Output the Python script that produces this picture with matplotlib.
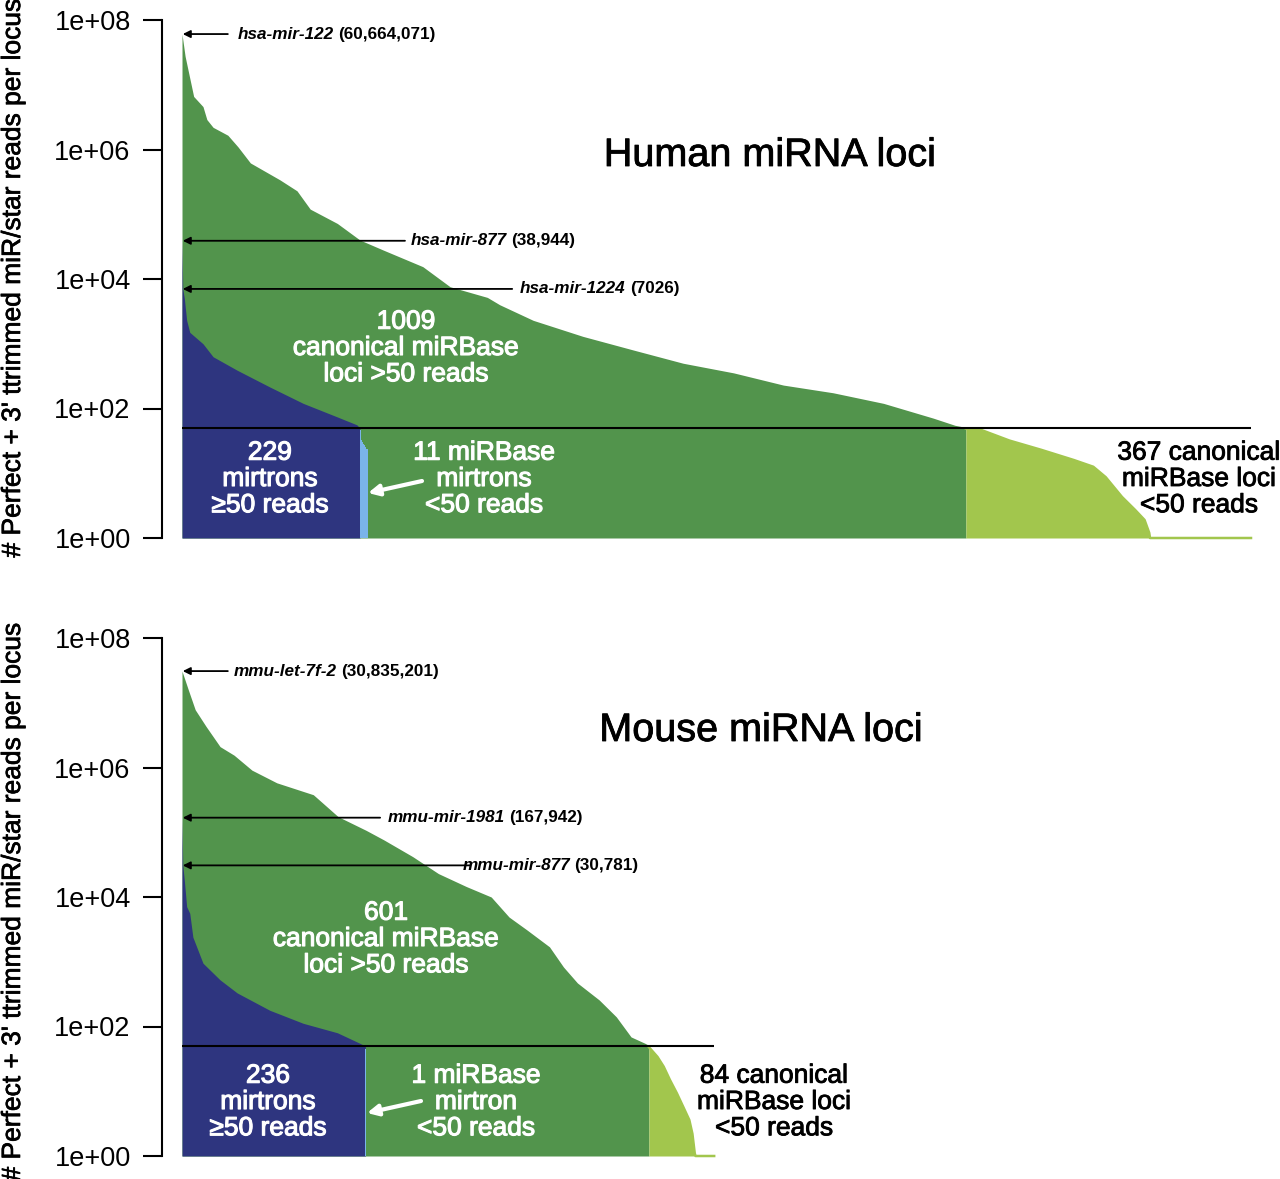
import numpy as np
import matplotlib
matplotlib.use("Agg")
import matplotlib.pyplot as plt
import matplotlib.patheffects as pe

plt.rcParams['font.family'] = ['Liberation Sans', 'DejaVu Sans']

# colours
GREEN = '#52944c'
LGREEN = '#a2c64d'
DBLUE = '#2e357f'
LBLUE = '#7ab4ea'

# ---- human data (rank along x, reads per locus) ----
human_n_canon = 1009
human_n_canon_low = 367
human_n_mirtron = 229
human_n_mirtron_low = 11

human_canon_rank = [0, 4, 15, 27, 32, 40, 59, 72, 88, 126, 148, 165, 200, 229, 259, 310,
                    345, 393, 409, 452, 516, 581, 645, 710, 774, 838, 903, 967, 995, 1009]
human_canon_reads = [60664071, 2.75e7, 6.6e6, 4.6e6, 2.9e6, 2.2e6, 1.66e6, 1.1e6, 6.2e5,
                     3.4e5, 2.3e5, 1.2e5, 7.2e4, 4.0e4, 2.8e4, 1.55e4, 7.6e3, 5.2e3, 4.0e3,
                     2.3e3, 1.3e3, 800, 500, 355, 230, 175, 120, 71, 55, 51]
human_low_rank = [1009, 1028, 1065, 1106, 1148, 1173, 1189, 1210, 1227, 1239, 1245, 1246, 1376]
human_low_reads = [49, 47, 32, 23, 16, 12.6, 8.7, 4.3, 2.7, 1.9, 1.2, 1, 1]
human_mirtron_rank = [0, 1, 3, 6, 10, 27, 40, 71, 113, 156, 200, 225, 229]
human_mirtron_reads = [38944, 7026, 5000, 2300, 1500, 1000, 630, 390, 215, 120, 74, 56, 50]
human_mirtron_low_reads = [46, 38, 33, 30, 28, 27, 26, 25, 24, 23.5, 23]

# ---- mouse data ----
mouse_n_canon = 601
mouse_n_canon_low = 84
mouse_n_mirtron = 236
mouse_n_mirtron_low = 1

mouse_canon_rank = [0, 8, 17, 31, 49, 67, 90, 122, 169, 201, 237, 260, 297, 330, 366, 398,
                    421, 444, 473, 491, 509, 537, 559, 578, 596, 601]
mouse_canon_reads = [30835201, 1.6e7, 7.8e6, 4.3e6, 2.1e6, 1.55e6, 9.1e5, 5.8e5, 3.8e5,
                     1.74e5, 1.07e5, 7.6e4, 4.2e4, 2.3e4, 1.45e4, 1.0e4, 4.9e3, 3.1e3,
                     1.7e3, 830, 470, 257, 141, 69, 55, 51]
mouse_low_rank = [601, 612, 620, 628, 637, 645, 653, 657, 660, 661, 685]
mouse_low_reads = [48, 34, 24, 15, 9.3, 5.8, 3.6, 2.2, 1.1, 1, 1]
mouse_mirtron_rank = [0, 1, 3, 6, 10, 14, 27, 49, 71, 113, 156, 200, 229, 236]
mouse_mirtron_reads = [167942, 30781, 1.8e4, 7.1e3, 5.6e3, 2.4e3, 950, 525, 330, 178, 112,
                       80, 55, 50]
mouse_mirtron_low_reads = [45]

yticks = [1, 1e2, 1e4, 1e6, 1e8]
ytick_labels = ['1e+00', '1e+02', '1e+04', '1e+06', '1e+08']
ylabel = "# Perfect + 3' ttrimmed miR/star reads per locus"

human_notes = [('hsa-mir-122', '(60,664,071)', 60664071, 59, 72),
               ('hsa-mir-877', '(38,944)', 38944, 287, 294),
               ('hsa-mir-1224', '(7026)', 7026, 425, 435)]
mouse_notes = [('mmu-let-7f-2', '(30,835,201)', 30835201, 59, 67),
               ('mmu-mir-1981', '(167,942)', 167942, 255, 265),
               ('mmu-mir-877', '(30,781)', 30781, 371, 361)]


def thick(color, w=0.6):
    return [pe.withStroke(linewidth=w, foreground=color)]


fig = plt.figure(figsize=(12.8, 11.79), dpi=100)
W, H = 1280, 1179
ax_h = fig.add_axes([182 / W, (H - 538) / H, 1069 / W, 518 / H])
ax_m = fig.add_axes([182 / W, (H - 1156) / H, 1069 / W, 518 / H])


def draw_panel(ax, canon_rank, canon_reads, low_rank, low_reads, mir_rank, mir_reads,
               mir_low_reads, n_total, notes):
    ax.set_yscale('log')
    ax.fill_between(canon_rank, canon_reads, 1, color=GREEN, lw=0)
    ax.fill_between(low_rank, low_reads, 1, color=LGREEN, lw=0)
    ax.plot(low_rank, low_reads, color=LGREEN, lw=1.8, clip_on=False)
    ax.fill_between(mir_rank, mir_reads, 1, color=DBLUE, lw=0)
    # the low-read mirtrons as single bars
    x0 = mir_rank[-1]
    xs = x0 + np.arange(len(mir_low_reads) + 1)
    ys = list(mir_low_reads) + [mir_low_reads[-1]]
    ax.fill_between(xs, ys, 1, step='post', color=LBLUE, lw=0)
    ax.hlines(50, 0, n_total, color='black', lw=1.5)

    ax.set_xlim(0, 1376)
    ax.set_ylim(1, 1e8)
    ax.set_yticks(yticks)
    ax.set_yticklabels(ytick_labels)
    ax.minorticks_off()
    ax.tick_params(axis='y', length=13.5, width=1.5, pad=9, labelsize=19.5)
    for lab in ax.get_yticklabels():
        lab.set_path_effects(thick('black', 0.5))
    ax.set_xticks([])
    for s in ['top', 'right', 'bottom']:
        ax.spines[s].set_visible(False)
    ax.spines['left'].set_position(('outward', 14.4))
    ax.spines['left'].set_linewidth(1.5)
    ax.patch.set_alpha(0)

    for name, num, val, tail, lab in notes:
        ax.annotate('', xy=(1, val), xytext=(tail, val),
                    arrowprops=dict(arrowstyle='-|>', color='black', lw=1.3,
                                    mutation_scale=11, shrinkA=0, shrinkB=0))
        t = ax.text(lab, val, name, style='italic', fontweight='bold', fontsize=12.3,
                    va='center', ha='left')
        ax.annotate(num, xy=(1, 0.5), xycoords=t, xytext=(3, 0), fontweight='bold',
                    textcoords='offset points', va='center', ha='left', fontsize=12.3)


draw_panel(ax_h, human_canon_rank, human_canon_reads, human_low_rank, human_low_reads,
           human_mirtron_rank, human_mirtron_reads, human_mirtron_low_reads,
           human_n_canon + human_n_canon_low, human_notes)
draw_panel(ax_m, mouse_canon_rank, mouse_canon_reads, mouse_low_rank, mouse_low_reads,
           mouse_mirtron_rank, mouse_mirtron_reads, mouse_mirtron_low_reads,
           mouse_n_canon + mouse_n_canon_low, mouse_notes)

fs = 19
ls = 1.12
WT = thick('white', 0.8)
BT = thick('black', 0.6)
# human labels
ax_h.text(0.550, 0.7394, 'Human miRNA loci', transform=ax_h.transAxes, fontsize=28.5,
          ha='center', va='center', path_effects=BT)
ax_h.text(0.2095, 0.3668, f'{human_n_canon}\ncanonical miRBase\nloci >50 reads',
          transform=ax_h.transAxes, color='white', fontsize=fs, ha='center', va='center',
          linespacing=ls, path_effects=WT)
ax_h.text(0.0823, 0.1139, f'{human_n_mirtron}\nmirtrons\n≥50 reads', transform=ax_h.transAxes,
          color='white', fontsize=fs, ha='center', va='center', linespacing=ls,
          path_effects=WT)
ax_h.text(0.2825, 0.1139, f'{human_n_mirtron_low} miRBase\nmirtrons\n<50 reads',
          transform=ax_h.transAxes, color='white', fontsize=fs, ha='center', va='center',
          linespacing=ls, path_effects=WT)
ax_h.text(0.9513, 0.1139, f'{human_n_canon_low} canonical\nmiRBase loci\n<50 reads',
          transform=ax_h.transAxes, color='black', fontsize=fs, ha='center', va='center',
          linespacing=ls, clip_on=False, path_effects=BT)
ax_h.annotate('', xy=((368 - 182) / 1069, (538 - 493) / 518),
              xytext=((422 - 182) / 1069, (538 - 481) / 518),
              xycoords='axes fraction', textcoords='axes fraction',
              arrowprops=dict(arrowstyle='-|>', color='white', lw=3, mutation_scale=16,
                              shrinkA=0, shrinkB=0))

# mouse labels
ax_m.text(0.5416, 0.8224, 'Mouse miRNA loci', transform=ax_m.transAxes, fontsize=28.5,
          ha='center', va='center', path_effects=BT)
ax_m.text(0.1908, 0.4189, f'{mouse_n_canon}\ncanonical miRBase\nloci >50 reads',
          transform=ax_m.transAxes, color='white', fontsize=fs, ha='center', va='center',
          linespacing=ls, path_effects=WT)
ax_m.text(0.0804, 0.1042, f'{mouse_n_mirtron}\nmirtrons\n≥50 reads', transform=ax_m.transAxes,
          color='white', fontsize=fs, ha='center', va='center', linespacing=ls,
          path_effects=WT)
ax_m.text(0.275, 0.1042, f'{mouse_n_mirtron_low} miRBase\nmirtron\n<50 reads',
          transform=ax_m.transAxes, color='white', fontsize=fs, ha='center', va='center',
          linespacing=ls, path_effects=WT)
ax_m.text(0.5538, 0.1042, f'{mouse_n_canon_low} canonical\nmiRBase loci\n<50 reads',
          transform=ax_m.transAxes, color='black', fontsize=fs, ha='center', va='center',
          linespacing=ls, path_effects=BT)
ax_m.annotate('', xy=((367 - 182) / 1069, (1156 - 1113) / 518),
              xytext=((421 - 182) / 1069, (1156 - 1101) / 518),
              xycoords='axes fraction', textcoords='axes fraction',
              arrowprops=dict(arrowstyle='-|>', color='white', lw=3, mutation_scale=16,
                              shrinkA=0, shrinkB=0))

# y labels (about as long as the panel, as in the original)
fig.text(13 / W, 1 - 278 / H, ylabel, rotation=90, ha='center', va='center', fontsize=19,
         path_effects=thick('black', 0.5))
fig.text(13 / W, 1 - 902 / H, ylabel, rotation=90, ha='center', va='center', fontsize=19,
         path_effects=thick('black', 0.5))

fig.savefig('out.png', dpi=100)
